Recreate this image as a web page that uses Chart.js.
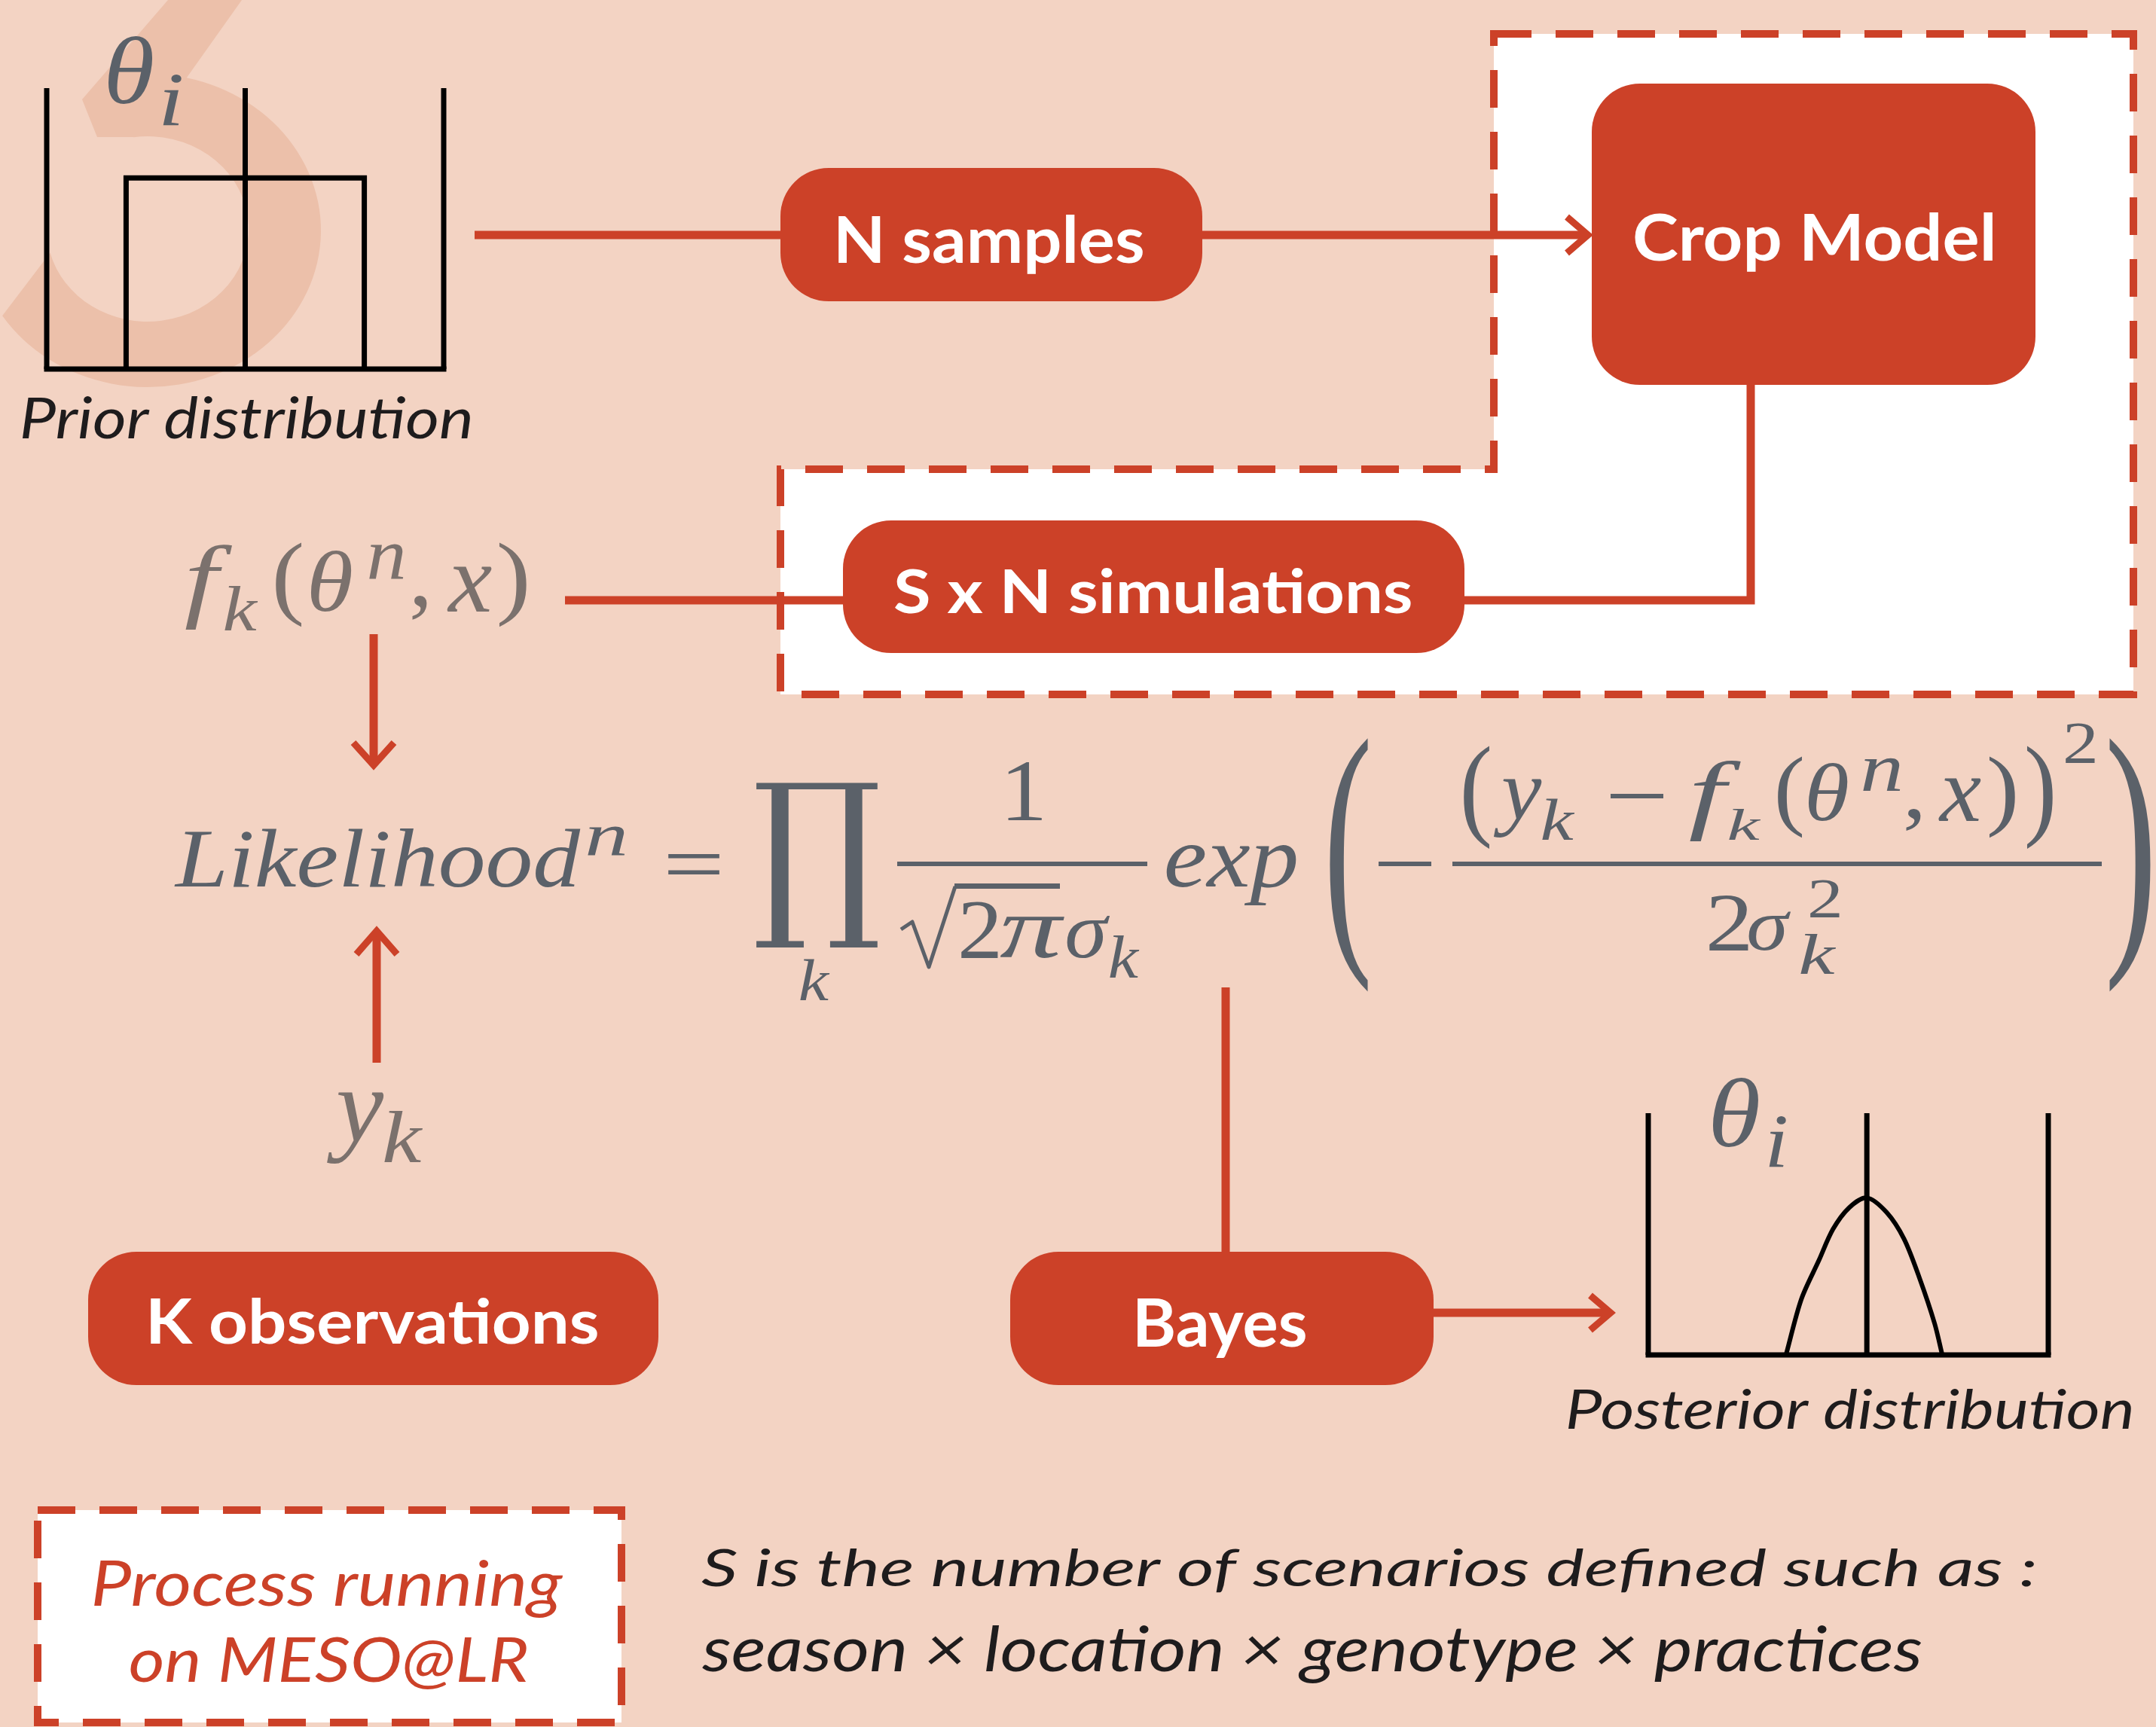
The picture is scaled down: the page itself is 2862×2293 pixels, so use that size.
<!DOCTYPE html>
<html>
<head>
<meta charset="utf-8">
<script src="https://cdn.jsdelivr.net/npm/chart.js@4.4.0/dist/chart.umd.min.js"></script>
<style>
  html, body { margin: 0; padding: 0; background: #f3d3c3; overflow: hidden; }
  canvas { display: block; }
</style>
</head>
<body>
<canvas id="diagram" width="2862" height="2293" style="width:2862px;height:2293px"></canvas>
<script>
// ---- data ----
// prior: uniform density on theta in [-0.6, 0.6] (outline of the single bar)
const priorTheta = [-0.6, -0.6, 0.6, 0.6];
const priorDensity = [0, 0.68, 0.68, 0];
const priorAxis = [-1, 0, 1];

// posterior: peaked density around theta = 0
const postTheta = [-0.37, -0.30, -0.22, -0.155, -0.08, 0, 0.09, 0.17, 0.24, 0.31, 0.345];
const postDensity = [0, 0.23, 0.39, 0.52, 0.61, 0.65, 0.59, 0.48, 0.32, 0.13, 0];
const postAxis = [-1, 0, 0.83];

const nodeLabels = ['N samples', 'Crop Model', 'S x N simulations', 'K observations', 'Bayes'];
const captions = ['Prior distribution', 'Posterior distribution'];
const serverLines = ['Process running', 'on MESO@LR'];
const noteLines = ['S is the number of scenarios defined such as :', 'season \u00d7 location \u00d7 genotype \u00d7 practices'];

// ---- layout (canvas units) ----
const W = 2862, H = 2293;
const BG = '#f3d3c3', RED = '#cc4128', GRAY = '#5b6169', BROWN = '#7b716d', INK = '#1e1c1d';

const priorPanel = { x0: 62, x1: 589, tMin: -1, tMax: 1, base: 490, top: 117 };
const postPanel = { x0: 2188, x1: 2719, tMin: -1, tMax: 0.83, base: 1799, top: 1478 };

// node boxes: x0, y0, x1, y1 and label ink box
const nodeBoxes = [
  [1036, 223, 1596, 400], [2113, 111, 2702, 511], [1119, 691, 1944, 867],
  [117, 1662, 874, 1839], [1341, 1662, 1903, 1839]
];
const nodeInk = [
  [1113, 285, 1517, 364], [2170, 282, 2645, 361], [1188, 754, 1873, 815],
  [200, 1723, 793, 1785], [1510, 1724, 1733, 1804]
];

const dashedRegions = [
  [[1983, 45], [2832, 45], [2832, 922], [1036, 922], [1036, 623], [1983, 623]],
  [[50, 2005], [825, 2005], [825, 2287], [50, 2287]]
];

const links = [
  [[630, 312], [1036, 312]],
  [[1596, 312], [2104, 312]],
  [[2324, 511], [2324, 797], [1944, 797]],
  [[1119, 797], [750, 797]],
  [[496, 842], [496, 1012]],
  [[500, 1411], [500, 1240]],
  [[1627, 1311], [1627, 1662]],
  [[1903, 1743], [2134, 1743]]
];
// arrow heads: tip, arm1, arm2
const heads = [
  [[2108, 312], [2080, 288], [2080, 336]],
  [[496, 1016], [469, 986], [523, 986]],
  [[500, 1236], [473, 1267], [527, 1267]],
  [[2138, 1743], [2111, 1720], [2111, 1766]]
];

const MI = 'italic 120px "Liberation Serif"';
const MU = '120px "Liberation Serif"';
const mathTokens = [
  ['f', MI, BROWN, 246, 723, 309, 837], ['k', MI, BROWN, 298, 777, 343, 837],
  ['(', MU, BROWN, 366, 720, 401, 833], ['\u03b8', MI, BROWN, 412, 730, 467, 812],
  ['n', MI, BROWN, 490, 722, 536, 768], [',', MU, BROWN, 547, 792, 567, 825],
  ['x', MI, BROWN, 593, 752, 653, 812], [')', MU, BROWN, 662, 720, 699, 833],
  ['y', MI, BROWN, 433, 1450, 510, 1545], ['k', MI, BROWN, 510, 1475, 562, 1543],
  ['\u03b8', MI, GRAY, 143, 47, 203, 138], ['i', MI, GRAY, 216, 99, 241, 168],
  ['\u03b8', MI, GRAY, 2273, 1430, 2335, 1523], ['i', MI, GRAY, 2348, 1482, 2371, 1551],
  ['Likelihood', MI, GRAY, 231, 1100, 771, 1178], ['n', MI, GRAY, 780, 1097, 830, 1135],
  ['=', MU, GRAY, 886, 1132, 955, 1160],
  ['\u220f', '120px "DejaVu Serif"', GRAY, 1004, 1038, 1166, 1260],
  ['k', MI, GRAY, 1062, 1273, 1102, 1328],
  ['1', MU, GRAY, 1338, 1012, 1383, 1089],
  ['2', MU, GRAY, 1276, 1197, 1325, 1272], ['\u03c0', MI, GRAY, 1327, 1217, 1413, 1272],
  ['\u03c3', MI, GRAY, 1416, 1215, 1473, 1272], ['k', MI, GRAY, 1473, 1242, 1513, 1298],
  ['exp', MI, GRAY, 1548, 1122, 1721, 1202],
  ['(', MU, GRAY, 1765, 978, 1817, 1318],
  ['(', MU, GRAY, 1943, 990, 1978, 1127], ['y', MI, GRAY, 1982, 1035, 2047, 1113],
  ['k', MI, GRAY, 2047, 1060, 2091, 1115], ['f', MI, GRAY, 2243, 1010, 2312, 1117],
  ['k', MI, GRAY, 2295, 1073, 2338, 1115], ['(', MU, GRAY, 2360, 1005, 2393, 1113],
  ['\u03b8', MI, GRAY, 2400, 1012, 2453, 1090], ['n', MI, GRAY, 2473, 1007, 2523, 1050],
  [',', MU, GRAY, 2530, 1075, 2550, 1105], ['x', MI, GRAY, 2573, 1033, 2630, 1090],
  [')', MU, GRAY, 2640, 1005, 2675, 1113], [')', MU, GRAY, 2690, 990, 2725, 1127],
  ['2', MU, GRAY, 2742, 960, 2781, 1012],
  ['2', MU, GRAY, 2269, 1188, 2321, 1262], ['\u03c3', MI, GRAY, 2321, 1210, 2377, 1262],
  ['2', MU, GRAY, 2403, 1168, 2442, 1218], ['k', MI, GRAY, 2390, 1240, 2438, 1293],
  [')', MU, GRAY, 2799, 978, 2855, 1318]
];
// bars of the formula: fraction bars, minus signs, radical overbar
const mathBars = [
  [1191, 1144, 1523, 1150], [1830, 1144, 1900, 1150],
  [1928, 1144, 2790, 1150], [2138, 1054, 2208, 1060], [1267, 1173, 1407, 1180]
];

// panel value -> canvas units
function toPanel(p, t, d) {
  return {
    x: p.x0 + (t - p.tMin) / (p.tMax - p.tMin) * (p.x1 - p.x0),
    y: p.base - d * (p.base - p.top)
  };
}
function frameSets(p, axis) {
  const sets = axis.map(t => ({
    data: [toPanel(p, t, 0), toPanel(p, t, 1)],
    borderColor: '#000', borderWidth: 7, pointRadius: 0
  }));
  sets.push({
    data: [toPanel(p, p.tMin, 0), toPanel(p, p.tMax, 0)],
    borderColor: '#000', borderWidth: 7, pointRadius: 0, borderCapStyle: 'square'
  });
  return sets;
}

const datasets = [
  ...frameSets(priorPanel, priorAxis),
  {
    data: priorTheta.map((t, i) => toPanel(priorPanel, t, priorDensity[i])),
    borderColor: '#000', borderWidth: 7, pointRadius: 0, borderJoinStyle: 'miter'
  },
  ...frameSets(postPanel, postAxis),
  {
    data: postTheta.map((t, i) => toPanel(postPanel, t, postDensity[i])),
    borderColor: '#000', borderWidth: 6, pointRadius: 0, tension: 0.3
  }
];

// draw text so that its ink fills the given box
function fitText(ctx, str, font, color, x0, y0, x1, y1) {
  ctx.save();
  ctx.font = font;
  ctx.textAlign = 'left';
  ctx.textBaseline = 'alphabetic';
  const m = ctx.measureText(str);
  const w = m.actualBoundingBoxLeft + m.actualBoundingBoxRight;
  const h = m.actualBoundingBoxAscent + m.actualBoundingBoxDescent;
  ctx.translate(x0, y0);
  ctx.scale((x1 - x0) / w, (y1 - y0) / h);
  ctx.fillStyle = color;
  ctx.fillText(str, m.actualBoundingBoxLeft, m.actualBoundingBoxAscent);
  ctx.restore();
}

const backdrop = {
  id: 'backdrop',
  beforeDraw(chart) {
    const { ctx } = chart;
    const X = v => chart.scales.x.getPixelForValue(v);
    const Y = v => chart.scales.y.getPixelForValue(v);
    ctx.save();
    ctx.fillStyle = BG;
    ctx.fillRect(0, 0, chart.width, chart.height);

    // faint logo mark behind the prior
    const r = Math.PI / 180;
    ctx.fillStyle = '#ecc0aa';
    ctx.beginPath();
    ctx.moveTo(X(223), Y(0));
    ctx.lineTo(X(109), Y(132));
    ctx.lineTo(X(129), Y(182));
    ctx.lineTo(X(177), Y(182));
    ctx.ellipse(X(196), Y(304), 134, 123, 0, -98 * r, 165 * r, false);
    ctx.ellipse(X(196), Y(306), 230, 208, 0, 147 * r, -77 * r, true);
    ctx.lineTo(X(321), Y(0));
    ctx.closePath();
    ctx.fill();

    // dashed white regions
    dashedRegions.forEach(poly => {
      ctx.beginPath();
      poly.forEach(([x, y], i) => i ? ctx.lineTo(X(x), Y(y)) : ctx.moveTo(X(x), Y(y)));
      ctx.closePath();
      ctx.fillStyle = '#fff';
      ctx.fill();
      ctx.setLineDash([50, 32]);
      ctx.lineWidth = 10;
      ctx.strokeStyle = RED;
      ctx.stroke();
    });
    ctx.restore();
  }
};

const overlay = {
  id: 'overlay',
  afterDatasetsDraw(chart) {
    const { ctx } = chart;
    const X = v => chart.scales.x.getPixelForValue(v);
    const Y = v => chart.scales.y.getPixelForValue(v);
    ctx.save();

    // links and arrow heads
    ctx.strokeStyle = RED;
    ctx.lineWidth = 11;
    ctx.lineJoin = 'miter';
    links.forEach(pts => {
      ctx.beginPath();
      pts.forEach(([x, y], i) => i ? ctx.lineTo(X(x), Y(y)) : ctx.moveTo(X(x), Y(y)));
      ctx.stroke();
    });
    ctx.lineWidth = 9;
    heads.forEach(([tip, a, b]) => {
      ctx.beginPath();
      ctx.moveTo(X(a[0]), Y(a[1]));
      ctx.lineTo(X(tip[0]), Y(tip[1]));
      ctx.lineTo(X(b[0]), Y(b[1]));
      ctx.stroke();
    });

    // node boxes with labels
    nodeBoxes.forEach((b, i) => {
      ctx.fillStyle = RED;
      ctx.beginPath();
      ctx.roundRect(X(b[0]), Y(b[1]), X(b[2]) - X(b[0]), Y(b[3]) - Y(b[1]), 64);
      ctx.fill();
      const k = nodeInk[i];
      fitText(ctx, nodeLabels[i], 'bold 90px Lato', '#fff', X(k[0]), Y(k[1]), X(k[2]), Y(k[3]));
    });

    // captions and notes
    const cap = 'italic 400 80px Lato';
    fitText(ctx, captions[0], cap, INK, X(29), Y(526), X(625), Y(583));
    fitText(ctx, captions[1], cap, INK, X(2081), Y(1844), X(2830), Y(1898));
    fitText(ctx, serverLines[0], cap, RED, X(124), Y(2070), X(748), Y(2148));
    fitText(ctx, serverLines[1], cap, RED, X(173), Y(2173), X(699), Y(2243));
    fitText(ctx, noteLines[0], cap, INK, X(931), Y(2055), X(2701), Y(2115));
    fitText(ctx, noteLines[1], cap, INK, X(931), Y(2158), X(2551), Y(2235));

    // formula
    mathTokens.forEach(([s, f, c, x0, y0, x1, y1]) => fitText(ctx, s, f, c, X(x0), Y(y0), X(x1), Y(y1)));
    ctx.fillStyle = GRAY;
    mathBars.forEach(([x0, y0, x1, y1]) => ctx.fillRect(X(x0), Y(y0), X(x1) - X(x0), Y(y1) - Y(y0)));
    ctx.strokeStyle = GRAY;
    ctx.lineWidth = 5;
    ctx.lineJoin = 'round';
    ctx.beginPath();
    ctx.moveTo(X(1196), Y(1234));
    ctx.lineTo(X(1211), Y(1224));
    ctx.lineTo(X(1233), Y(1284));
    ctx.lineTo(X(1268), Y(1177));
    ctx.stroke();

    ctx.restore();
  }
};

new Chart(document.getElementById('diagram'), {
  type: 'line',
  data: { datasets },
  options: {
    responsive: false,
    animation: false,
    events: [],
    layout: { padding: 0 },
    plugins: { legend: { display: false }, tooltip: { enabled: false } },
    scales: {
      x: { type: 'linear', min: 0, max: W, display: false },
      y: { type: 'linear', min: 0, max: H, reverse: true, display: false }
    }
  },
  plugins: [backdrop, overlay]
});
</script>
</body>
</html>
